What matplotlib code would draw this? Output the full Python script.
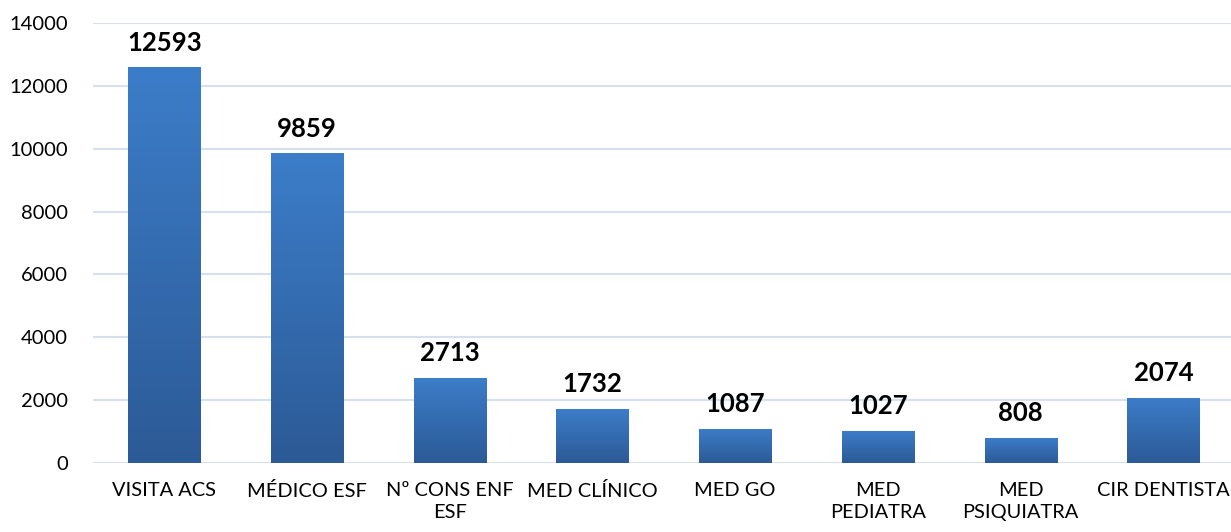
import matplotlib
matplotlib.use("Agg")
import matplotlib.pyplot as plt
import numpy as np
from matplotlib.colors import LinearSegmentedColormap

categories = ["VISITA ACS", "MÉDICO ESF", "Nº CONS ENF\nESF", "MED CLÍNICO", "MED GO",
              "MED\nPEDIATRA", "MED\nPSIQUIATRA", "CIR DENTISTA"]
values = [12593, 9859, 2713, 1732, 1087, 1027, 808, 2074]
yticks = [0, 2000, 4000, 6000, 8000, 10000, 12000, 14000]

plt.rcParams['font.family'] = ['Lato', 'DejaVu Sans']

fig = plt.figure(figsize=(12.31, 5.32), dpi=100)
ax = fig.add_axes([93/1231, (532-463)/532, 1 - 93/1231 + 0.003, (463-23)/532])

x = np.arange(len(categories))
bars = ax.bar(x, values, width=0.505, color="#3A78C2", zorder=3)

cmap = LinearSegmentedColormap.from_list("g", ["#2C5A96", "#3C7DC9"])
grad = np.linspace(0, 1, 256).reshape(-1, 1)
for b in bars:
    bx, by = b.get_x(), b.get_y()
    w, h = b.get_width(), b.get_height()
    im = ax.imshow(grad, cmap=cmap, aspect="auto", origin="lower",
                   extent=[bx, bx + w, by, by + h], zorder=4)
    im.set_clip_path(b)
    ax.annotate(f"{int(h)}", (bx + w/2, h), xytext=(0, 9), textcoords="offset points",
                ha="center", va="bottom", fontsize=18.5, fontweight="bold", color="black", zorder=5)

ax.set_xlim(-0.5, len(categories) - 0.5)
ax.set_ylim(0, 14000)
ax.set_yticks(yticks)
ax.set_yticklabels([str(t) for t in yticks], fontsize=14.5)
ax.set_xticks(x)
ax.set_xticklabels(categories, fontsize=14.4, linespacing=1.35)
ax.tick_params(axis="both", length=0)
ax.tick_params(axis="y", pad=18)
ax.tick_params(axis="x", pad=14)
ax.grid(axis="y", color="#D6E1F0", linewidth=1.5, zorder=0)
ax.set_axisbelow(True)
for s in ax.spines.values():
    s.set_visible(False)

fig.savefig("out.png", dpi=100)
